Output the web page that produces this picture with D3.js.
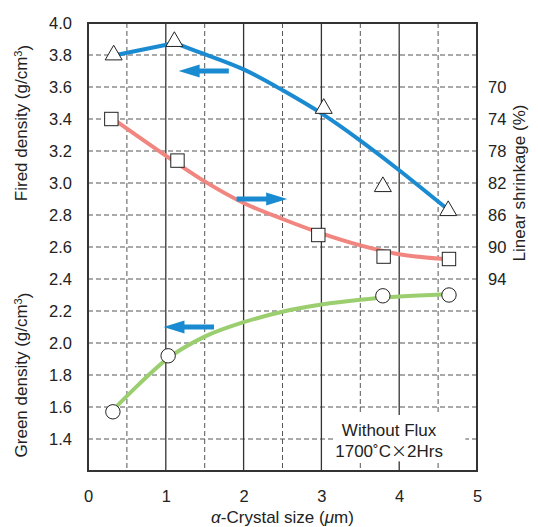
<!DOCTYPE html>
<html>
<head>
<meta charset="utf-8">
<script src="https://cdn.jsdelivr.net/npm/d3@7"></script>
<style>
  body { margin: 0; background: #fff; }
  text { font-family: "Liberation Sans", Arial, sans-serif; fill: #222; }
</style>
</head>
<body>
<div id="chart"></div>
<script>
// x ticks / gridlines
var sizeTicks = [0, 1, 2, 3, 4, 5];
var sizeHalfTicks = [0.5, 1.5, 2.5, 3.5, 4.5];
var densityTicks = [1.4, 1.6, 1.8, 2.0, 2.2, 2.4, 2.6, 2.8, 3.0, 3.2, 3.4, 3.6, 3.8, 4.0];
var shrinkTicks = [70, 74, 78, 82, 86, 90, 94];

// fired density (triangles, left axis)
var firedX = [0.33, 1.11, 3.03, 3.79, 4.63];
var firedY = [3.80, 3.884, 3.466, 2.977, 2.827];
// fit: straight rise to the peak, then a smooth fall
var firedFitX = [0.36, 1.12, 1.5, 2.0, 2.5, 3.0, 3.5, 4.0, 4.6];
var firedFitY = [3.80, 3.875, 3.805, 3.71, 3.58, 3.435, 3.265, 3.08, 2.845];

// linear shrinkage (squares, right axis)
var shrinkX = [0.30, 1.15, 2.96, 3.80, 4.64];
var shrinkY = [74.0, 79.2, 88.5, 91.2, 91.5];
var shrinkFitX = [0.37, 1.08, 1.5, 2.0, 2.5, 3.0, 3.5, 4.0, 4.58];
var shrinkFitY = [74.3, 79.1, 81.8, 84.5, 86.5, 88.3, 89.8, 90.9, 91.5];

// green density (circles, left axis)
var greenX = [0.32, 1.03, 3.79, 4.64];
var greenY = [1.57, 1.92, 2.295, 2.30];
var greenFitX = [0.38, 0.65, 1.03, 1.5, 2.0, 2.5, 3.0, 3.5, 4.0, 4.6];
var greenFitY = [1.61, 1.74, 1.905, 2.04, 2.13, 2.195, 2.24, 2.27, 2.29, 2.305];

// arrows showing which axis each curve belongs to
var arrowFrom = [1.81, 1.91, 1.62];
var arrowTo = [1.165, 2.56, 0.97];
var arrowAt = [3.70, 2.90, 2.10];

var blue = "#1a8bd1", red = "#f0867f", green = "#9bce6f";

var margin = {top: 23, right: 61, bottom: 56, left: 88},
    width = 538 - margin.left - margin.right,
    height = 527 - margin.top - margin.bottom;

var svg = d3.select("#chart")
  .append("svg")
    .attr("width", 538)
    .attr("height", 527)
  .append("g")
    .attr("transform", "translate(" + margin.left + "," + margin.top + ")");

var x = d3.scaleLinear().domain([0, 5]).range([0, width]);
var y = d3.scaleLinear().domain([1.2, 4.0]).range([height, 0]);
var yS = d3.scaleLinear().domain([70, 94]).range([y(3.6), y(2.4)]);

// grid
svg.selectAll(".hgrid")
  .data(densityTicks)
  .enter()
  .append("line")
    .attr("x1", 0).attr("x2", width)
    .attr("y1", function(d) { return y(d); })
    .attr("y2", function(d) { return y(d); })
    .attr("stroke", "#555")
    .attr("stroke-dasharray", "5,3");

svg.selectAll(".vhalf")
  .data(sizeHalfTicks)
  .enter()
  .append("line")
    .attr("x1", function(d) { return x(d); })
    .attr("x2", function(d) { return x(d); })
    .attr("y1", 0).attr("y2", height)
    .attr("stroke", "#555")
    .attr("stroke-dasharray", "5,3");

svg.selectAll(".vgrid")
  .data(sizeTicks.slice(1, 5))
  .enter()
  .append("line")
    .attr("x1", function(d) { return x(d); })
    .attr("x2", function(d) { return x(d); })
    .attr("y1", 0).attr("y2", height)
    .attr("stroke", "#333")
    .attr("stroke-width", 1.3);

// white box behind the note
svg.append("rect")
  .attr("x", x(3.18)).attr("y", y(1.55))
  .attr("width", x(4.85) - x(3.18))
  .attr("height", y(1.26) - y(1.55))
  .attr("fill", "#fff");

svg.append("text")
  .attr("x", x(3.87)).attr("y", y(1.42))
  .attr("text-anchor", "middle")
  .style("font-size", "17px")
  .text("Without Flux");
var note2 = svg.append("text")
  .attr("x", x(3.87)).attr("y", y(1.42) + 21)
  .attr("text-anchor", "middle")
  .style("font-size", "17px");
note2.append("tspan").text("1700˚C");
note2.append("tspan").style("font-family", "'Noto Sans CJK JP', sans-serif").style("font-size", "16px").text("×");
note2.append("tspan").text("2Hrs");

// frame
svg.append("rect")
  .attr("width", width).attr("height", height)
  .attr("fill", "none")
  .attr("stroke", "#333")
  .attr("stroke-width", 2);

// axes (labels only)
var ax = svg.append("g")
  .attr("transform", "translate(0," + height + ")")
  .call(d3.axisBottom(x).tickValues(sizeTicks).tickSize(0).tickPadding(19).tickFormat(d3.format("d")));
var ayl = svg.append("g")
  .call(d3.axisLeft(y).tickValues(densityTicks).tickSize(0).tickPadding(16).tickFormat(d3.format(".1f")));
var ayr = svg.append("g")
  .attr("transform", "translate(" + width + ",0)")
  .call(d3.axisRight(yS).tickValues(shrinkTicks).tickSize(0).tickPadding(11).tickFormat(d3.format("d")));
[ax, ayl, ayr].forEach(function(a) {
  a.select(".domain").remove();
  a.selectAll("text")
    .style("font-family", "'Liberation Sans', Arial, sans-serif")
    .style("font-size", "16.5px")
    .attr("fill", "#222");
});

// axis titles
var xt = svg.append("text")
  .attr("x", width / 2).attr("y", height + 52)
  .attr("text-anchor", "middle")
  .style("font-size", "17px");
xt.append("tspan").style("font-style", "italic").text("α");
xt.append("tspan").text("-Crystal size (");
xt.append("tspan").style("font-style", "italic").text("μ");
xt.append("tspan").text("m)");

function yTitle(label, cx, cy) {
  var t = svg.append("text")
    .attr("transform", "translate(" + cx + "," + cy + ")rotate(-90)")
    .attr("text-anchor", "middle")
    .style("font-size", "17px");
  t.append("tspan").text(label + " (g/cm");
  t.append("tspan").attr("dy", "-0.45em").style("font-size", "11px").text("3");
  t.append("tspan").attr("dy", "0.45em").text(")");
}
yTitle("Fired density", -61, 100);
yTitle("Green density", -61, 352);

svg.append("text")
  .attr("transform", "translate(" + (width + 48) + "," + (160) + ")rotate(-90)")
  .attr("text-anchor", "middle")
  .style("font-size", "17px")
  .text("Linear shrinkage (%)");

// fitted curves
function curve(xs, ys, sy, color, kind) {
  var pts = xs.map(function(d, i) { return [x(d), sy(ys[i])]; });
  svg.append("path")
    .attr("d", d3.line().curve(kind || d3.curveMonotoneX)(pts))
    .attr("fill", "none")
    .attr("stroke", color)
    .attr("stroke-width", 4)
    .attr("stroke-linecap", "round");
}
curve(firedFitX.slice(0, 2), firedFitY.slice(0, 2), y, blue, d3.curveLinear);
curve(firedFitX.slice(1), firedFitY.slice(1), y, blue, d3.curveNatural);
curve(shrinkFitX, shrinkFitY, yS, red);
curve(greenFitX, greenFitY, y, green);

// arrows
arrowAt.forEach(function(v, i) {
  var x0 = x(arrowFrom[i]), x1 = x(arrowTo[i]), yy = y(v);
  var dir = x1 > x0 ? 1 : -1;
  var hb = x1 - dir * 21;
  svg.append("path")
    .attr("d", "M" + x0 + "," + (yy - 2.4) + "L" + hb + "," + (yy - 2.4) + "L" + hb + "," + (yy - 6.5) +
               "L" + x1 + "," + yy + "L" + hb + "," + (yy + 6.5) + "L" + hb + "," + (yy + 2.4) +
               "L" + x0 + "," + (yy + 2.4) + "Z")
    .attr("fill", blue);
});

// markers
svg.selectAll("mytri")
  .data(firedX)
  .enter()
  .append("path")
    .attr("d", d3.symbol().type(d3.symbolTriangle).size(125))
    .attr("transform", function(d, i) { return "translate(" + x(d) + "," + y(firedY[i]) + ")"; })
    .attr("fill", "#fff")
    .attr("stroke", "#222")
    .attr("stroke-width", 1);

svg.selectAll("mysquare")
  .data(shrinkX)
  .enter()
  .append("rect")
    .attr("x", function(d) { return x(d) - 6.7; })
    .attr("y", function(d, i) { return yS(shrinkY[i]) - 6.7; })
    .attr("width", 13.4).attr("height", 13.4)
    .attr("fill", "#fff")
    .attr("stroke", "#222")
    .attr("stroke-width", 1);

svg.selectAll("mycircle")
  .data(greenX)
  .enter()
  .append("circle")
    .attr("cx", function(d) { return x(d); })
    .attr("cy", function(d, i) { return y(greenY[i]); })
    .attr("r", 7.2)
    .attr("fill", "#fff")
    .attr("stroke", "#222")
    .attr("stroke-width", 1);
</script>
</body>
</html>
